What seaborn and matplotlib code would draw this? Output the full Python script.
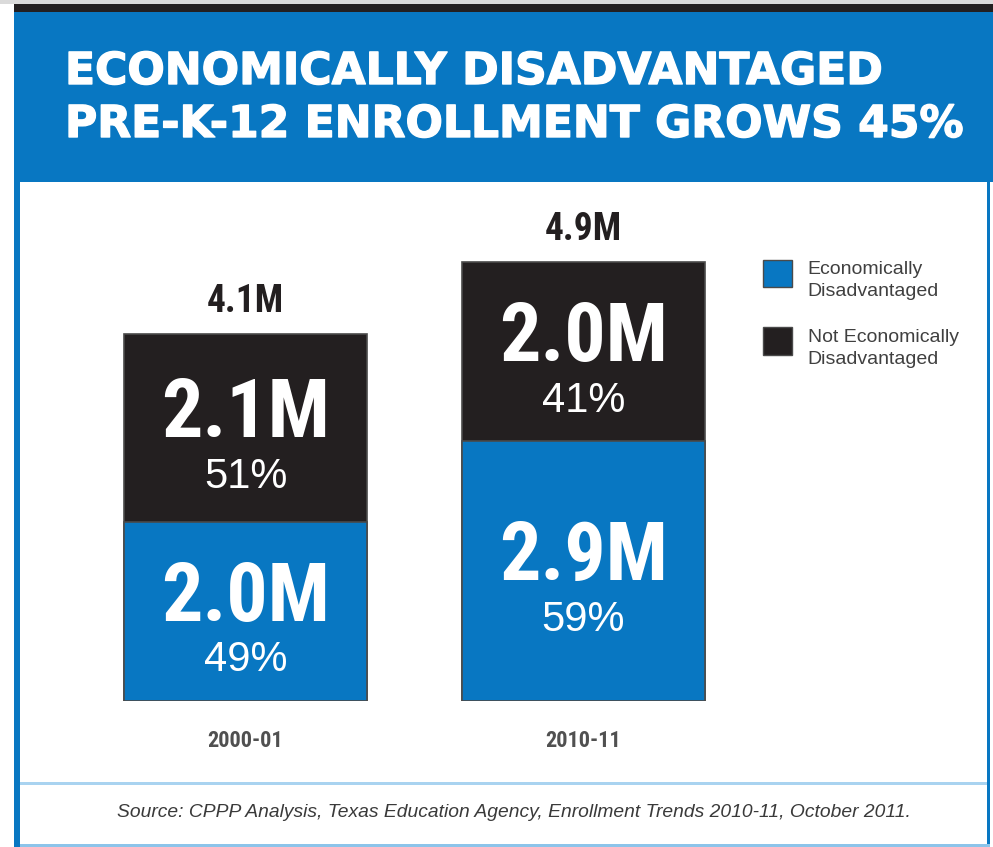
import matplotlib
matplotlib.use("Agg")
import matplotlib.pyplot as plt
from matplotlib import font_manager
from matplotlib.patches import Rectangle, Patch
from matplotlib.legend_handler import HandlerPatch
import matplotlib.patheffects as pe
import seaborn as sns

# ---- data -------------------------------------------------------------
years = ["2000-01", "2010-11"]
econ_dis = [2.0, 2.9]          # millions, economically disadvantaged
not_econ_dis = [2.1, 2.0]      # millions, not economically disadvantaged
econ_pct = [49, 59]
not_econ_pct = [51, 41]
series_names = ["Economically\nDisadvantaged", "Not Economically\nDisadvantaged"]
title_lines = ["ECONOMICALLY DISADVANTAGED", "PRE-K-12 ENROLLMENT GROWS 45%"]
source_note = ("Source: CPPP Analysis, Texas Education Agency, "
               "Enrollment Trends 2010-11, October 2011.")

totals = [a + b for a, b in zip(econ_dis, not_econ_dis)]

# ---- styling ----------------------------------------------------------
BLUE = "#0877C2"
DARK = "#231F20"
LIGHT_BLUE = "#A9D3F0"
GREY_TXT = "#505050"

sns.set_theme(style="white")
plt.rcParams["font.family"] = ["Liberation Sans", "DejaVu Sans"]


def narrow_font():
    """Pick a condensed sans face if one is installed."""
    entries = font_manager.fontManager.ttflist
    names = {f.name for f in entries}
    for name in ["Liberation Sans Narrow", "Arial Narrow", "Roboto Condensed"]:
        if name in names:
            return {"family": name}
    for f in entries:
        if f.name in ("DejaVu Sans", "Roboto") and "condensed" in str(f.stretch):
            return {"family": f.name, "stretch": "condensed"}
    return {"family": "Liberation Sans"}


NARROW = narrow_font()

W, H = 993, 847
fig = plt.figure(figsize=(W / 100, H / 100), dpi=100, facecolor="white")


def box(x0, y0, x1, y1, color):
    fig.patches.append(Rectangle((x0 / W, 1 - y1 / H), (x1 - x0) / W, (y1 - y0) / H,
                                 transform=fig.transFigure, figure=fig,
                                 facecolor=color, edgecolor="none", zorder=1))


# frame: header band, side rules, separator above the source note
box(0, 0, W, 4, "#DADADA")
box(14, 4, W, 12, DARK)
box(14, 12, W, 182, BLUE)
box(14, 182, 20, H, BLUE)
box(987, 182, 990, H, BLUE)
box(20, 782, 987, 785, LIGHT_BLUE)
box(20, 844, 990, H, "#8CC4EA")

# title
for line, base in zip(title_lines, [84, 137]):
    fig.text(65 / W, 1 - base / H, line, color="white", fontsize=31.7,
             fontweight="bold", family="DejaVu Sans", va="baseline", ha="left",
             path_effects=[pe.withStroke(linewidth=1.0, foreground="white")])

# ---- stacked bars -----------------------------------------------------
ax = fig.add_axes([76.5 / W, 1 - 701 / H, 676 / W, 501 / H])
ax.set_facecolor("none")
sns.barplot(x=years, y=totals, color=DARK, saturation=1, width=0.72,
            edgecolor="#4a4a4a", linewidth=1.2, ax=ax)
sns.barplot(x=years, y=econ_dis, color=BLUE, saturation=1, width=0.72,
            edgecolor="#4a4a4a", linewidth=1.2, ax=ax)
ax.set_xlim(-0.5, 1.5)
ax.set_ylim(0, 501 / 89.5)
sns.despine(ax=ax, left=True, bottom=True)
ax.set_yticks([])
ax.set_xlabel("")
ax.set_ylabel("")
ax.tick_params(axis="x", length=0, pad=21, labelsize=16, labelcolor=GREY_TXT)
for lab in ax.get_xticklabels():
    lab.set_fontweight("bold")
    lab.set_fontfamily(NARROW["family"])
    if "stretch" in NARROW:
        lab.set_fontstretch(NARROW["stretch"])

for i in range(len(years)):
    segments = [(0, econ_dis[i], econ_pct[i]),
                (econ_dis[i], not_econ_dis[i], not_econ_pct[i])]
    for bottom, val, pct in segments:
        mid = bottom + val / 2
        ax.annotate(f"{val:.1f}M", xy=(i, mid), xytext=(0, -6.5),
                    textcoords="offset points", ha="center", va="baseline",
                    color="white", fontsize=59, fontweight="bold", **NARROW)
        ax.annotate(f"{pct}%", xy=(i, mid), xytext=(0, -43),
                    textcoords="offset points", ha="center", va="baseline",
                    color="white", fontsize=30)
    ax.annotate(f"{totals[i]:.1f}M", xy=(i, totals[i]), xytext=(0, 16),
                textcoords="offset points", ha="center", va="baseline",
                color=DARK, fontsize=27, fontweight="bold", **NARROW)


# legend: swatches sit level with the first text line
def raised_swatch(legend, orig_handle, xdescent, ydescent, width, height, fontsize):
    return Rectangle((-xdescent, -ydescent + 5.4), width, height)


handles = [Patch(facecolor=BLUE, edgecolor="#4a4a4a", linewidth=1),
           Patch(facecolor=DARK, edgecolor="#4a4a4a", linewidth=1)]
leg = fig.legend(handles, series_names, loc="upper left",
                 bbox_to_anchor=(763 / W, 1 - 261.5 / H), frameon=False,
                 fontsize=14, handlelength=1.5, handleheight=1.8,
                 handletextpad=0.8, labelspacing=1.5, borderpad=0,
                 borderaxespad=0,
                 handler_map={Patch: HandlerPatch(patch_func=raised_swatch)})
for t in leg.get_texts():
    t.set_color("#404040")
    t.set_linespacing(1.35)

# source note
fig.text(514 / W, 1 - 817 / H, source_note, ha="center", va="baseline",
         fontsize=13.9, style="italic", color="#3a3a3a")

fig.savefig("out.png", dpi=100, facecolor="white")
